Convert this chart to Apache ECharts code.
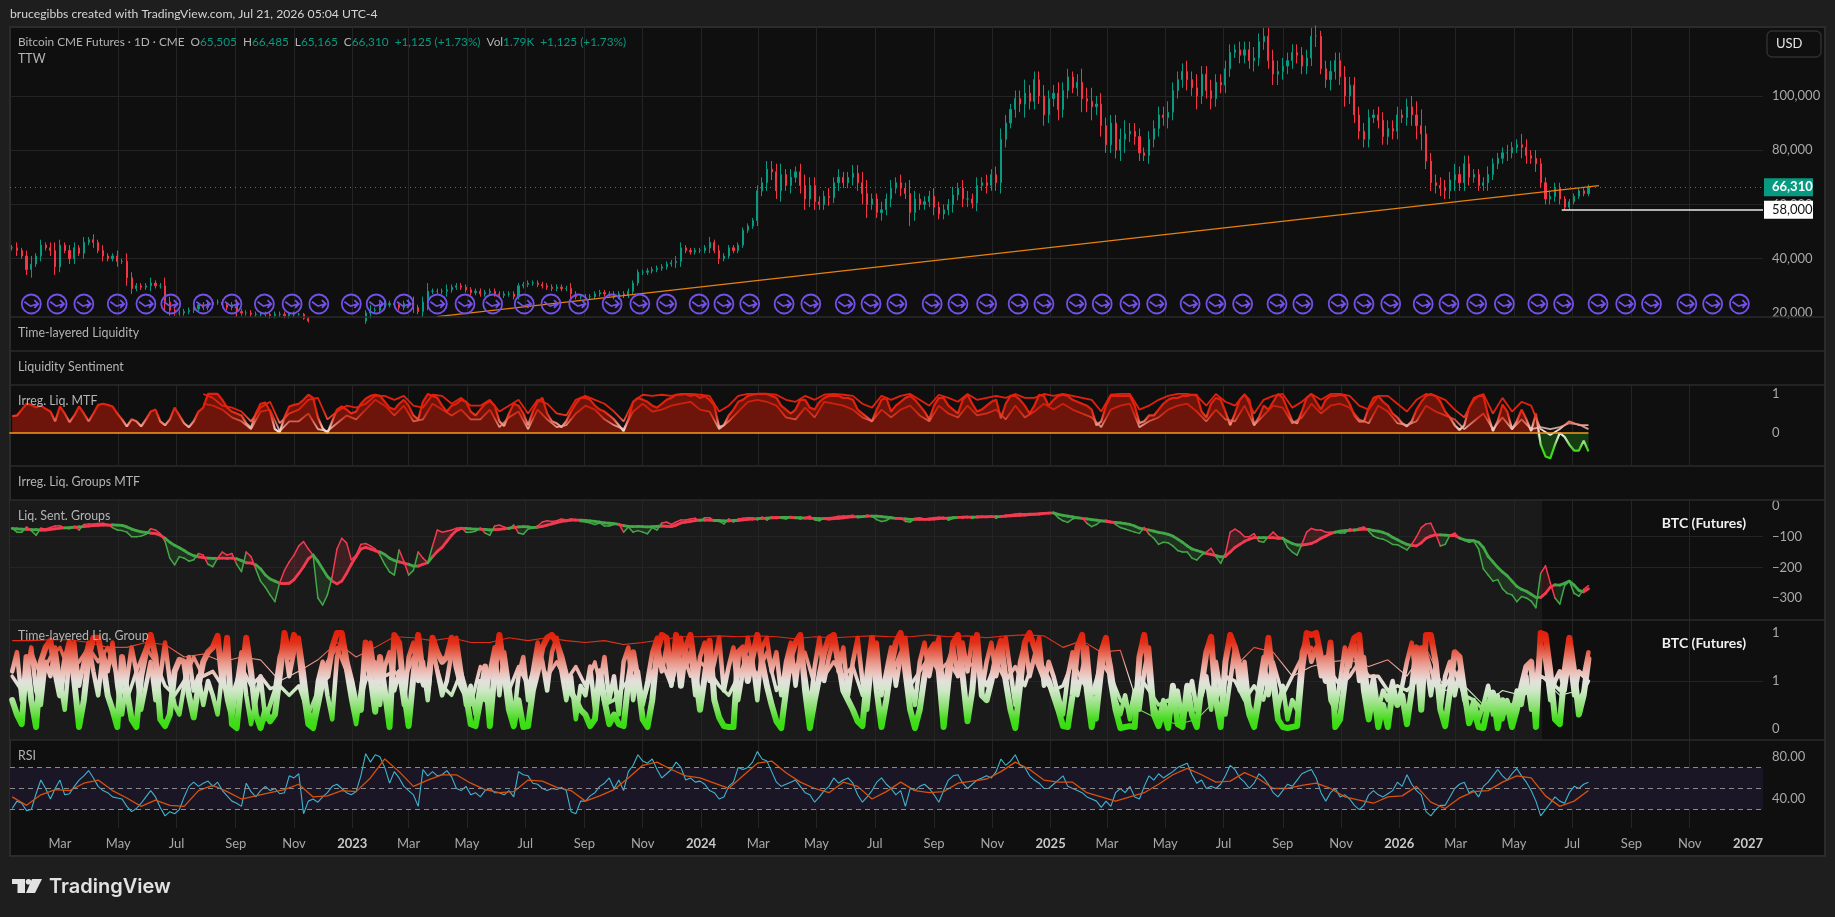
<!DOCTYPE html>
<html><head><meta charset="utf-8"><style>html,body{margin:0;padding:0;background:#1e1e1e}#c{width:1835px;height:917px}</style>
<script src="https://cdn.jsdelivr.net/npm/echarts@6/dist/echarts.min.js"></script></head><body><div id="c"></div><script>
const seriesStart='2022-01-10', stepDays=5;
const axisStart='2022-01-07T17:00:00Z', axisEnd='2027-01-16T17:00:00Z';
const tickDates=['2022-03-01','2022-05-01','2022-07-01','2022-09-01','2022-11-01','2023-01-01','2023-03-01','2023-05-01','2023-07-01','2023-09-01','2023-11-01','2024-01-01','2024-03-01','2024-05-01','2024-07-01','2024-09-01','2024-11-01','2025-01-01','2025-03-01','2025-05-01','2025-07-01','2025-09-01','2025-11-01','2026-01-01','2026-03-01','2026-05-01','2026-07-01','2026-09-01','2026-11-01','2027-01-01'];
const tickLabels=['Mar','May','Jul','Sep','Nov','2023','Mar','May','Jul','Sep','Nov','2024','Mar','May','Jul','Sep','Nov','2025','Mar','May','Jul','Sep','Nov','2026','Mar','May','Jul','Sep','Nov','2027'];
const closeK=[44,43,41,36,38,41,45,44,43,37,45,43,40,44,42,46,47,46,43,41,40,41,39,39,33,29,30,29.5,30,31,30,30,24,21,20,20,20.5,21,21.5,23,22,23,24,24,23,22,23,20.5,20,20,19.5,19.5,19.5,19.5,19,19.5,19.5,19,19.5,19.5,19.5,18,17,16.5,16.5,16.5,16.8,16.8,17,16.5,16.7,16.6,16.7,17,20,21,21,23,23,23.5,23,22,23.5,24,22,20.5,24,28,28,28,28,28.5,29.5,30,29.5,28.5,27.5,28,27,27.5,28,27,26.5,27,27,26,30,30.5,31,31,30.5,30,29.5,29,29.5,29,29,27,26,26,26,26,27,27.5,27,27,26,27,26.5,28,31,35,35,35.5,36,36.5,37,38,38.5,39,44,43,42.5,43,43,44,46,43,40,41,44,43,45,50.5,52,54,65,68,73,72,65,71,67,70,72,67,62,67,61,60,63,62.5,68,70,68,70,71.5,68,64,60,62,57,58,62,66,68,66,64,57,62,60,61,63,59,56.5,58,60,63.5,66,62,62,60.5,67,68,67,71,68,84,90,95,99,97,101,98,106,100,93,99,101,95,102,107,103,105,99,98,96,97,89,82,90,80,84,86,87,85,79,78,84,88,93,92,94,102,106,109,106,103,100,108,102,99,105,104,110,116,117,115,117,113,114,120,122,113,108,109,111,113,116,115,111,114,122,122,110,106,109,113,107,100,104,93,87,84,92,93,91,85,88,87,93,92,96,93,89,86,76,68,67,66,65,69,71,68,75,70,71,67,68,71,75,77,79,79,81,82,81,78,77,75,68,62,63,66,62,59,61,63,65,64,66.31];
const wickK=[1,2,1,2,3,1,2,1,2,3,2,1,2,2,1,2,1,2,1,2,1,1,2,1,3,2,1,1,1,2,1,1,3,2,1,1,1,1,1,1,1,1,1,1,1,1,1,2,1,1,1,1,1,1,1,1,1,1,1,1,.5,.5,.5,1,1,1,1,1,1,1,1,1,1,1,1,2,1,1,2,1,1,1,1,1,2,1,2,3,1,1,1,2,1,1,1,1,1,1,1,1,1,1,1,1,1,1,1,1,1,1,1,1,1,1,1,1,1,2,1,1,1,1,1,1,1,1,1,1,1,1,1,1,1,1,1,1,1,1,1,2,2,1,1,1,1,1,2,1,2,1,1,1,1,1,1,1,2,2,3,3,3,4,2,3,2,3,4,3,3,2,2,3,2,3,2,2,3,3,4,5,2,2,3,2,3,2,3,2,5,3,2,2,2,3,2,2,2,3,2,3,3,2,3,2,3,2,3,4,3,2,3,3,5,3,3,3,4,3,3,4,3,3,2,3,5,4,5,3,4,3,3,3,4,5,3,3,3,2,3,3,3,3,4,3,3,3,4,3,5,3,3,4,3,3,3,3,2,3,3,3,4,3,3,3,4,4,3,3,3,3,3,3,3,4,2,3,4,3,3,4,3,3,3,3,3,2,3,3,3,3,3,2,3,4,5,6,3,3,3,3,3,3,4,3,3,3,2,2,2,3,2,2,2,3,2,2,4,3,2,3,2,2,2,2,2,1,1];
const trendDays=[445,1661], trendK=[18.64,66.92];
const eventDays=[20,47,75,110,140,166,200,230,264,293,321,355,381,410,445,474,503,536,564,593,628,657,685,719,745,772,808,836,872,899,926,963,990,1020,1053,1080,1114,1141,1170,1198,1233,1260,1288,1324,1351,1388,1415,1443,1477,1504,1533,1562,1597,1624,1660,1689,1716,1753,1780,1808];
const lastClose=66310, levelPrice=58000, levelStartDay=1622;
const irregA=[.43,.45,.6,.75,.72,.66,.7,.62,.55,.3,.68,.5,.28,.45,.68,.5,.3,.5,.72,.75,.72,.68,.5,.35,.17,.35,.3,.17,.35,.55,.6,.3,.2,.35,.65,.45,.25,.15,.3,.55,.65,1,1,1,.85,.65,.55,.5,.45,.25,.13,.5,.75,.78,.55,.1,.02,.4,.68,.72,.75,.85,.98,.9,.4,.12,0,.3,.6,.68,.6,.5,.55,.75,.88,.95,.98,.95,.8,.65,.6,.75,.85,.7,.45,.35,.8,1,.95,.9,.7,.55,.7,.75,.85,.8,.55,.45,.6,.75,.82,.7,.3,.18,.5,.75,.7,.5,.2,.55,.8,.9,.5,.3,.25,.15,.3,.55,.75,.9,.9,.85,.7,.6,.55,.45,.35,.2,.05,.35,.8,.9,.85,.8,.7,.65,.75,.85,.9,.98,.98,1,.95,.98,.9,.95,.85,.7,.15,.2,.45,.6,.8,.85,.95,.98,1,1,1,.95,.9,.7,.6,.5,.6,.85,.85,.65,.6,.8,.9,.95,.95,.95,.9,.9,.85,.6,.5,.4,.3,.6,.85,.9,.55,.7,.8,.9,.95,.85,.7,.55,.35,.7,.9,.9,.7,.6,.5,.85,.98,.75,.55,.6,.7,.8,.85,.38,.75,.95,.95,.85,.7,.5,.7,.98,.95,.7,.85,.95,.98,.95,.85,.8,.75,.7,.6,.2,.3,.7,.95,.95,.95,.95,.95,.7,.26,.3,.45,.45,.6,.75,.85,.9,.9,.95,.95,.98,.98,.55,.4,.75,.9,.85,.55,.2,.5,.85,.98,.85,.2,.4,.7,.6,.8,1,.9,.6,.3,.25,.55,.9,1,.8,.6,.85,.95,.95,.98,.95,.75,.45,.3,.3,.65,.9,.95,.8,.7,.5,.4,.25,.17,.3,.6,.8,.95,1,.95,.8,.55,.4,.2,.08,.2,.65,.85,.95,.95,.45,.05,.3,.73,.55,.1,.3,.6,.35,.05,.5,-.3,-.6,-.65,-.3,0,-.1,-.3,-.45,-.45,-.2,-.47];
const irregBStart=40, irregBCStep=2;
const irregB=[1,.9,.7,.65,.55,.3,.65,.8,.25,.5,.6,.85,.9,.35,.55,.7,.65,.75,.95,.95,.85,.95,.7,.65,.98,.95,.75,.9,.7,.7,.85,.55,.7,.85,.5,.85,.75,.5,.45,.85,.95,.85,.75,.55,.3,.8,.98,.95,.98,.95,1,1,.98,.95,.55,.7,.95,1,1,1,.98,.85,.8,.95,.85,.98,1,.98,.95,.75,.65,.95,.85,.95,1,.85,.7,.98,.9,.8,1,.85,.9,.95,.9,1,.9,.9,1,.95,1,.95,.9,.85,.55,.98,1,1,.6,.7,.85,.95,1,1,.95,.7,1,.8,.7,1,.5,.85,.95,1,.65,.8,1,.85,1,1,.95,.7,.6,.95,.95,.75,.55,.85,1,.95,.85,.6,.4,.9,1,.5,.9,.55,.8,.7,.1,-.05,.1,.3,.2,.2];
const irregC=[.75,.7,.6,.4,.3,.1,.55,.6,.05,.3,.3,.5,.1,.05,.25,.45,.35,.6,.85,.7,.45,.7,.3,.35,.75,.6,.45,.6,.35,.35,.6,.15,.4,.55,.1,.6,.35,.15,.2,.5,.7,.6,.35,.2,.1,.55,.75,.55,.6,.7,.75,.8,.6,.55,.1,.3,.55,.8,.85,.8,.7,.4,.35,.65,.4,.8,.75,.7,.6,.4,.3,.6,.4,.6,.7,.45,.3,.7,.5,.4,.7,.45,.5,.6,.35,.7,.4,.55,.75,.6,.75,.6,.5,.4,.15,.6,.7,.75,.15,.3,.4,.6,.7,.75,.55,.3,.6,.35,.3,.7,.2,.45,.7,.65,.25,.4,.75,.5,.7,.75,.65,.35,.25,.7,.55,.25,.2,.3,.7,.55,.45,.35,.1,.3,.5,.1,.4,.1,.35,.1,.15,.1,.15,.25,.22,.1];
const groupSlow=[-73,-74,-75,-76,-77,-77,-78,-78,-76,-74,-72,-71,-70,-69,-68,-67,-65,-64,-63,-62,-62,-61,-62,-63,-68,-75,-80,-84,-86,-88,-90,-95,-105,-118,-128,-136,-145,-155,-162,-166,-168,-170,-171,-171,-170,-171,-170,-172,-178,-185,-186,-192,-205,-225,-238,-245,-252,-253,-252,-240,-220,-198,-172,-160,-180,-205,-230,-245,-254,-245,-220,-190,-165,-140,-135,-140,-146,-150,-158,-170,-178,-182,-186,-190,-196,-196,-190,-185,-165,-148,-135,-115,-95,-80,-73,-73,-74,-75,-75,-76,-78,-77,-76,-74,-72,-70,-68,-67,-68,-70,-69,-66,-62,-58,-54,-50,-48,-46,-46,-46,-47,-48,-50,-52,-55,-56,-57,-60,-64,-66,-67,-66,-67,-68,-67,-66,-65,-66,-67,-62,-55,-52,-50,-47,-46,-46,-46,-47,-47,-48,-48,-47,-47,-45,-43,-42,-41,-40,-39,-38,-38,-37,-37,-37,-38,-38,-39,-40,-40,-41,-41,-42,-41,-40,-38,-36,-35,-34,-34,-33,-33,-33,-34,-36,-38,-40,-41,-42,-43,-43,-43,-43,-43,-42,-41,-40,-39,-38,-37,-37,-36,-36,-36,-35,-35,-34,-34,-34,-33,-32,-31,-30,-29,-28,-27,-26,-24,-23,-22,-27,-30,-33,-35,-38,-40,-42,-44,-46,-48,-50,-52,-53,-55,-57,-60,-65,-72,-75,-78,-82,-86,-88,-92,-98,-108,-118,-130,-140,-145,-150,-155,-158,-162,-166,-164,-150,-135,-125,-115,-108,-103,-103,-103,-103,-103,-105,-105,-115,-122,-127,-127,-125,-122,-115,-105,-98,-90,-85,-82,-80,-79,-78,-77,-75,-76,-80,-82,-86,-92,-102,-110,-118,-125,-128,-130,-120,-105,-98,-94,-94,-95,-96,-96,-104,-110,-112,-113,-118,-135,-164,-182,-200,-215,-228,-245,-262,-272,-278,-288,-298,-298,-285,-265,-257,-258,-252,-245,-258,-275,-280,-270];
const groupFast=[-73,-85,-85,-68,-80,-95,-72,-75,-70,-65,-64,-72,-74,-66,-78,-60,-58,-58,-57,-56,-60,-70,-78,-80,-85,-100,-100,-98,-92,-74,-78,-90,-115,-170,-192,-165,-170,-180,-175,-155,-160,-190,-198,-170,-150,-160,-155,-190,-214,-150,-165,-205,-245,-265,-290,-312,-250,-210,-182,-160,-130,-116,-140,-160,-300,-323,-290,-230,-140,-105,-120,-175,-160,-125,-122,-130,-140,-160,-190,-215,-225,-143,-180,-225,-210,-150,-170,-185,-130,-78,-85,-82,-78,-72,-70,-85,-85,-82,-72,-88,-95,-65,-62,-68,-75,-62,-88,-92,-75,-72,-65,-52,-48,-50,-48,-42,-45,-42,-44,-50,-52,-55,-60,-55,-65,-65,-60,-58,-85,-68,-85,-80,-85,-90,-70,-78,-55,-52,-60,-52,-45,-45,-42,-40,-48,-38,-38,-48,-50,-58,-42,-52,-42,-40,-38,-38,-45,-36,-46,-36,-36,-40,-42,-34,-38,-42,-37,-33,-45,-48,-38,-38,-36,-33,-32,-32,-30,-38,-36,-30,-33,-44,-50,-47,-38,-38,-38,-50,-52,-40,-38,-42,-40,-38,-36,-36,-46,-40,-36,-34,-34,-40,-33,-33,-34,-32,-40,-32,-30,-28,-26,-24,-26,-24,-24,-23,-22,-22,-22,-38,-48,-53,-42,-38,-38,-56,-67,-60,-48,-46,-50,-60,-70,-75,-80,-85,-89,-70,-92,-105,-125,-118,-120,-130,-145,-150,-150,-170,-176,-160,-150,-138,-165,-187,-155,-85,-75,-85,-100,-100,-90,-115,-118,-100,-85,-100,-105,-135,-150,-160,-125,-85,-73,-78,-78,-85,-85,-85,-88,-88,-74,-80,-72,-68,-82,-98,-105,-108,-115,-125,-126,-135,-143,-125,-100,-70,-58,-56,-90,-130,-125,-95,-88,-105,-112,-118,-115,-140,-205,-225,-245,-240,-270,-285,-290,-312,-295,-300,-310,-332,-220,-195,-250,-300,-320,-260,-245,-285,-294,-272,-260];
const layeredA=[.3,.15,.05,.75,.3,.02,.7,.85,.92,.6,.35,.7,.9,.5,.02,.3,.75,.95,.95,.7,.35,.2,.02,.75,.4,.1,.02,.55,.8,.98,.75,.1,.03,.15,.6,.72,.7,.35,.12,.45,.7,.8,.85,.97,.5,.95,.05,.01,.5,.95,.6,.15,.01,.2,.08,.15,.55,1,.75,.98,.85,.4,.05,.01,.25,.5,.55,.85,1,1,.7,.5,.25,.2,.9,.55,.18,.75,.4,.02,.98,.9,.4,.03,.55,.98,.55,.4,.95,.8,.7,.75,.95,.65,.45,.35,.05,.03,.3,.65,.03,.6,.98,.6,.2,.03,.3,.02,.03,.4,.6,.85,.95,.98,.9,.75,.55,.38,.3,.2,.15,.03,.1,.6,.3,.05,.15,.05,.03,.5,.8,.5,.1,.02,.3,.8,.98,.95,.5,.98,.45,.85,.98,.6,.2,.55,.92,.3,.12,.03,.02,.02,.8,.85,.5,.75,.98,.7,.45,.25,.08,.01,.4,.75,.9,.98,.4,.01,.3,.55,.8,.95,.98,.7,.4,.3,.2,.08,.03,.55,.95,.4,.02,.3,.65,.9,1,.6,.2,.01,.2,.55,.8,.88,.6,.02,.5,.9,.98,.55,.08,.4,.98,.35,.3,.5,.75,.92,.5,.2,.01,.45,.9,1,.85,.7,.6,.5,.35,.2,.03,.02,.35,.85,.98,.4,.02,.35,.8,.95,.5,.2,.01,.02,.03,.02,.75,.98,.6,.15,.03,.2,.01,.45,.05,.02,.45,.15,.02,.45,.8,.96,.3,.02,.7,.98,.85,.65,.4,.15,.02,.3,.55,.95,.5,.1,.02,.01,.02,.03,.6,1,.98,1,.75,.5,.9,.02,.1,.5,.8,.95,.98,.4,.1,.4,.02,.25,.02,.4,.25,.35,.05,.4,.85,.2,.98,.98,.7,.2,.03,.4,.8,.75,.4,.06,.2,.02,.01,.25,.38,.01,.3,.25,.02,.2,.45,.65,.7,.02,1,.98,.6,.1,.05,.6,.95,.6,.15,.35,.73];
const layeredB=[.55,.4,.8,.55,.75,.85,.6,.7,.85,.7,.85,.55,.3,.6,.85,.7,.45,.35,.5,.75,.55,.6,.45,.35,.65,.45,.55,.42,.45,.35,.45,.15,.4,.7,.85,.6,.15,.5,.7,.55,.6,.5,.75,.45,.8,.45,.35,.6,.25,.65,.55,.8,.4,.65,.45,.75,.55,.7,.5,.65,.45,.7,.25,.3,.45,.55,.25,.6,.7,.45,.85,.55,.7,.6,.45,.35,.55,.75,.55,.8,.4,.55,.65,.8,.45,.55,.7,.55,.65,.35,.7,.4,.55,.8,.45,.6,.75,.6,.7,.55,.65,.7,.45,.7,.5,.65,.45,.75,.5,.4,.45,.7,.5,.35,.7,.55,.3,.2,.55,.4,.25,.3,.25,.2,.2,.5,.3,.55,.5,.3,.45,.3,.7,.35,.55,.75,.85,.7,.6,.45,.55,.7,.55,.55,.4,.45,.4,.5,.8,.45,.45,.6,.35,.3,.2,.2,.25,.25,.35,.4,.55,.5,.4,.65,.3,.5];
const layeredC=[.92,.92,.93,.93,.9,.85,.85,.9,.88,.75,.78,.7,.75,.72,.5,.6,.72,.9,.75,.85,.96,.95,.92,.95,.9,.9,.95,.92,.95,.92,.9,.92,.88,.9,.93,.96,.96,.97,.96,.97,.96,.94,.96,.95,.96,.97,.96,.96,.98,.96,.97,.95,.97,.98,.97,.85,.92,.8,.82,.2,.1,.05,.1,.3,.65,.85,.8,.55,.65,.7,.72,.65,.72,.55,.85,.4,.45,.25,.4,.35,.55,.35,.4,.5];
const layeredD=[.6,.8,.3,.55,.85,.4,.25,.7,.55,.85,.5,.2,.75,.9,.45,.7,.9,.6,.35,.8,.6,.9,.45,.15,.5,.85,.6,.2,.45,.7,.3,.55,.9,.5,.25,.15,.45,.75,.4,.55,.25,.5,.35,.15,.6,.3,.1,.45,.8,.35,.05,.3,.55,.1,.25,.4,.75,.9,.55,.8,.95,.6,.2,.05,.5,.7,.35,.1,.75,.95,.6,.3,.05,.4,.75,.9,.55,.25,.65,.8,.4,.6,.25,.75,.9,.5,.7,.3,.85,.6,.35,.5,.8,.95,.6,.25,.45,.15,.5,.3,.6,.85,.35,.8,.45,.1,.55,.75,.3,.6,.9,.7,.4,.8,.95,.6,.3,.55,.1,.45,.35,.65,.2,.45,.75,.3,.55,.15,.7,.85,.3,.6,.25,.5,.8,.95,.6,.85,.45,.75,.95,.65,.8,.35,.75,.9,.5,.7,.95,.4,.65,.85,.3,.6,.95,.7,.3,.85,.95,.6,.8,.35,.7,.9,.45,.85,.55,.2,.65,.95,.5,.75,.95,.6,.85,.35,.7,.95,.5,.2,.7,.9,.35,.6,.85,.45,.75,.95,.5,.25,.7,.9,.55,.8,.95,.35,.7,.85,.55,.9,.6,.95,.75,.4,.7,.9,.55,.8,.95,.6,.25,.7,.9,.55,.75,.95,.45,.7,.55,.35,.15,.55,.8,.35,.6,.85,.3,.1,.55,.9,.65,.3,.15,.35,.1,.4,.2,.6,.85,.25,.1,.3,.15,.2,.4,.1,.3,.5,.2,.35,.55,.2,.7,.4,.15,.5,.85,.4,.7,.25,.1,.45,.75,.35,.6,.2,.45,.1,.3,.2,.8,.95,.7,.85,.55,.75,.3,.2,.5,.85,.65,.9,.5,.75,.3,.55,.2,.4,.3,.5,.25,.45,.7,.9,.5,.85,.7,.35,.65,.2,.55,.7,.35,.6,.3,.15,.3,.1,.25,.45,.15,.35,.1,.3,.15,.4,.25,.55,.2,.45,.9,.7,.3,.5,.6,.4,.75,.35,.6,.55,.8];
const rsiLine=[31,38,36,29,30,45,58,50,40,50,58,44,45,52,58,62,67,60,52,48,46,42,41,40,33,28,31,36,42,48,42,32,24,28,26,30,42,52,56,52,55,57,52,56,48,43,38,36,33,55,47,42,48,52,48,50,45,46,62,60,64,26,38,40,37,42,46,52,54,50,46,44,47,62,83,75,82,80,70,55,66,60,52,48,44,33,68,62,66,62,63,67,61,50,48,52,44,46,42,48,50,46,46,44,48,42,66,63,62,55,54,50,48,50,49,51,48,28,26,38,38,43,46,52,55,60,50,58,48,66,72,82,76,74,78,68,60,64,68,75,70,58,60,56,57,54,48,46,40,42,52,56,70,68,70,75,85,78,76,66,56,52,54,56,58,52,46,44,37,42,48,52,60,55,58,60,55,44,37,42,48,56,60,54,50,44,48,33,50,48,52,54,50,44,37,48,58,62,63,55,50,54,58,60,62,60,66,78,72,76,82,72,70,62,58,55,50,50,54,58,62,52,50,48,46,42,40,38,32,38,33,46,50,46,52,42,40,52,62,58,64,60,63,66,70,72,74,63,55,58,50,52,50,54,62,72,68,60,56,50,55,64,60,54,46,42,48,54,52,58,64,66,68,60,46,38,46,50,42,44,40,34,30,34,44,48,44,42,45,48,56,52,63,54,48,44,28,24,30,34,34,42,50,54,56,46,48,42,52,56,62,68,62,58,64,69,62,56,48,38,24,30,36,42,38,36,46,52,50,54,56];
const rsiMaStep=3;
const rsiMa=[42,34,44,49,48,55,58,48,41,33,39,34,33,48,53,47,40,43,46,49,54,42,43,48,47,60,78,66,52,58,63,63,55,49,46,47,58,57,51,48,38,43,49,60,72,75,68,62,60,55,50,62,74,76,65,56,50,46,56,52,40,47,56,48,46,47,55,57,59,66,75,68,58,56,56,46,42,38,42,46,54,63,69,63,56,57,65,59,50,50,53,55,50,42,39,36,42,43,52,37,31,41,47,48,56,62,60,43,33,38,48];
const priceTicks=[20000,40000,60000,80000,100000,120000], irregTicks=[0,1], groupTicks=[-300,-200,-100,0], layeredTicks=[0,.5,1], rsiTicks=[40,80];

const DAY=864e5, t0=Date.parse(seriesStart+'T00:00:00Z');
const T=(i,step=1)=>t0+i*step*stepDays*DAY, TD=d=>t0+d*DAY;
const tMin=Date.parse(axisStart), tMax=Date.parse(axisEnd);
const tEnd=T(330), upToEnd=r=>r[0]<=tEnd;
const tickTs=tickDates.map(d=>Date.parse(d+'T00:00:00Z'));
const labelOf=v=>{const i=tickTs.indexOf(v);return i<0?'':tickLabels[i]};
const candles=closeK.map((c,i)=>{const o=i?closeK[i-1]:c,w=wickK[i]||1;return [T(i),o*1e3,c*1e3,(Math.min(o,c)-w)*1e3,(Math.max(o,c)+w)*1e3]});
const grids=[[27,290],[385,81],[500,120],[620,120],[740,88]].map(([top,height])=>({left:10,width:1753,top,height}));
const gridColor='#242424', axisText='#a8a8a8';
const xAxes=grids.map((g,i)=>({type:'value',gridIndex:i,min:tMin,max:tMax,axisLine:{show:false},
  axisTick:{show:false,customValues:tickTs},
  splitLine:{show:true,showMinLine:false,showMaxLine:false,lineStyle:{color:gridColor,width:1}},
  axisLabel:i==4?{show:true,customValues:tickTs,color:axisText,fontFamily:'Lato',fontSize:13,margin:9,hideOverlap:false,showMinLabel:true,showMaxLabel:true,
    formatter:v=>{const s=labelOf(v);return /^20/.test(s)?'{y|'+s+'}':s},rich:{y:{color:'#c8c8c8',fontFamily:'Lato',fontSize:13,fontWeight:'bold'}}}:{show:false}}));
const yA=(i,min,max,ticks,fmt)=>({type:'value',gridIndex:i,position:'right',min,max,axisLine:{show:false},
  axisTick:{show:false,customValues:ticks},splitLine:{show:true,showMinLine:false,showMaxLine:false,lineStyle:{color:gridColor,width:1}},
  axisLabel:{customValues:ticks,color:axisText,fontFamily:'Lato',fontSize:13,margin:9,formatter:fmt,showMinLabel:true,showMaxLabel:true}});
const yAxes=[
  yA(0,18500,125400,priceTicks,v=>v>=120000?'':v.toLocaleString('en-US')),
  yA(1,-.846,1.23,irregTicks,v=>String(v)),
  yA(2,-372,20,groupTicks,v=>String(v).replace('-','\u2212')),
  yA(3,-.115,1.135,layeredTicks,v=>String(Math.round(v))),
  yA(4,12.5,96,rsiTicks,v=>v.toFixed(2))
];
const noSym={symbol:'none',showSymbol:false,animation:false};
const lineOn=i=>({type:'line',xAxisIndex:i,yAxisIndex:i,...noSym});
const eventPath='path://M1 12A11 11 0 1 1 23 12A11 11 0 1 1 1 12ZM4 9.5L11 14.5L20 12M15.5 7.5L20 12L15.5 16.5';
function renderGroup(params,api){
  const i=params.dataIndex; if(i>=groupSlow.length-1) return;
  const up=groupFast[i]>groupSlow[i], col=up?'#f23a50':'#43a848', fill=up?'rgba(242,58,80,.17)':'rgba(67,168,72,.17)';
  const s0=api.coord([T(i),groupSlow[i]]),s1=api.coord([T(i+1),groupSlow[i+1]]),f0=api.coord([T(i),groupFast[i]]),f1=api.coord([T(i+1),groupFast[i+1]]);
  return {type:'group',children:[
    {type:'polygon',shape:{points:[s0,s1,f1,f0]},style:{fill:fill}},
    {type:'polyline',shape:{points:[f0,f1]},style:{stroke:col,lineWidth:1.5,fill:null,lineCap:'round'}},
    {type:'polyline',shape:{points:[s0,s1]},style:{stroke:col,lineWidth:2.8,fill:null,lineCap:'round'}}
  ]};
}
const series=[
 {type:'candlestick',xAxisIndex:0,yAxisIndex:0,data:candles,barWidth:1.6,animation:false,clip:true,itemStyle:{color:'#089981',color0:'#f23645',borderColor:'#089981',borderColor0:'#f23645',borderWidth:1},
  markLine:{silent:true,symbol:'none',animation:false,data:[
   {yAxis:lastClose,lineStyle:{color:'#089981',type:[1,4],width:1},label:{formatter:'66,310',position:'end',distance:1,color:'#fff',backgroundColor:'#089981',padding:[3,5,2,8],fontFamily:'Lato',fontSize:13,width:36,fontWeight:'bold'}},
   [{coord:[TD(levelStartDay),levelPrice],lineStyle:{color:'#e8e8e8',type:'solid',width:1.5},label:{formatter:'58,000',position:'end',distance:1,color:'#111',backgroundColor:'#fff',padding:[3,5,2,8],fontFamily:'Lato',fontSize:13,width:36}},{coord:[tMax,levelPrice]}]
  ]}},
 {...lineOn(0),data:trendDays.map((d,i)=>[TD(d),trendK[i]*1e3]),lineStyle:{color:'#e8810c',width:1.4},z:4},
 {type:'scatter',xAxisIndex:0,yAxisIndex:0,data:eventDays.map(d=>[TD(d),23300]),symbol:eventPath,symbolSize:19,animation:false,z:6,silent:true,itemStyle:{color:'rgba(0,0,0,0)',borderColor:'#7350e6',borderWidth:1.8,opacity:1}},
 {...lineOn(1),data:irregA.map((v,i)=>[T(i),Math.max(v,0)]),lineStyle:{width:0},areaStyle:{color:'#6e150b',opacity:1},itemStyle:{color:'#6e150b'},z:1},
 {...lineOn(1),data:irregA.map((v,i)=>[T(i),Math.min(v,0)]),lineStyle:{width:0},areaStyle:{color:'#163d12',opacity:1},itemStyle:{color:'#163d12'},z:1},
 {...lineOn(1),data:irregC.map((v,i)=>[T(irregBStart+i*irregBCStep),v]).filter(upToEnd),lineStyle:{width:1.8,opacity:.85},z:2},
 {...lineOn(1),data:irregB.map((v,i)=>[T(irregBStart+i*irregBCStep),v]).filter(upToEnd),lineStyle:{width:1.8},z:2},
 {...lineOn(1),data:irregA.map((v,i)=>[T(i),v]),lineStyle:{width:2.2},z:3},
 {...lineOn(1),data:[[T(0)-3*DAY,0],[tEnd,0]],lineStyle:{color:'#f59a1b',width:1.5},z:4},
 {type:'custom',xAxisIndex:2,yAxisIndex:2,coordinateSystem:'cartesian2d',renderItem:renderGroup,animation:false,silent:true,encode:{x:0,y:[1,2]},data:groupSlow.map((v,i)=>[T(i),v,groupFast[i]]),z:3},
 {...lineOn(3),data:layeredA.map((v,i)=>[T(i),v]),lineStyle:{width:6,join:'round',cap:'round'},z:2},
 {...lineOn(3),data:layeredD.map((v,i)=>[T(i),v]).filter(upToEnd),lineStyle:{width:4.5,join:'round',cap:'round'},z:3},
 {...lineOn(3),data:layeredB.map((v,i)=>[T(i,2),v]).filter(upToEnd),lineStyle:{width:3.5,join:'round',cap:'round'},z:3},
 {...lineOn(3),data:layeredC.map((v,i)=>[T(i,4),v]).filter(upToEnd),lineStyle:{width:1.1},z:4},
 {...lineOn(4),data:rsiLine.map((v,i)=>[T(i),v]),lineStyle:{color:'#3fb4cf',width:1.1},z:3,
  markArea:{silent:true,animation:false,itemStyle:{color:'#1a1626'},data:[[{yAxis:70},{yAxis:30}]]},
  markLine:{silent:true,symbol:'none',animation:false,label:{show:false},lineStyle:{color:'#8a8a8a',type:[5,4],width:1},data:[{yAxis:70},{yAxis:50},{yAxis:30}]}},
 {...lineOn(4),data:rsiMa.map((v,i)=>[T(i,rsiMaStep),v]),lineStyle:{color:'#d9520a',width:1.3},z:4}
];
const irregStops=['#35e010','#45d820','#a8e098','#f2f2f2','#ee9a8c','#e8402a','#e2200c','#e2200c','#e2200c'];
const layerStops=['#38dc10','#45dc20','#7ee060','#a8e498','#d0e8c8','#e4e0dc','#ecbcb4','#e89488','#e4604c','#e23018','#e2200c'];
const visualMap=[
 {type:'continuous',show:false,seriesIndex:[5,6,7],dimension:1,min:-.6,max:1,inRange:{color:irregStops}},
 {type:'continuous',show:false,seriesIndex:[10,11,12,13],dimension:1,min:0,max:1,inRange:{color:layerStops}}
];
const txt=(x,y,text,o={})=>({type:'text',x,y,z:50,silent:true,style:{text,fill:o.fill||'#b4b4b4',font:(o.font||'12.4px Lato'),textAlign:o.align||'left',textVerticalAlign:'middle',verticalAlign:'middle'}});
const hline=y=>({type:'line',z:40,silent:true,shape:{x1:10,y1:y,x2:1825,y2:y},style:{stroke:'#2b2b2b',lineWidth:1.5}});
const tc='#089981';
const legendEl={type:'text',x:18,y:42,z:50,silent:true,style:{verticalAlign:'middle',
 text:'{a|Bitcoin CME Futures \u00b7 1D \u00b7 CME  O}{g|65,505}{a|  H}{g|66,485}{a|  L}{g|65,165}{a|  C}{g|66,310}{a|  }{g|+1,125 (+1.73%)}{a|  Vol}{g|1.79K}{a|  }{g|+1,125 (+1.73%)}',
 rich:{a:{fill:'#b4b4b4',font:'11.8px Lato'},g:{fill:tc,font:'11.8px Lato'}}}};
const graphic={elements:[
 {type:'rect',z:-3,silent:true,shape:{x:10,y:27,width:1815,height:829},style:{fill:'#0f0f0f',stroke:'#2b2b2b',lineWidth:2}},
 {type:'rect',z:-2,silent:true,shape:{x:10,y:500,width:1532,height:240},style:{fill:'#1a1a1a'}},
 hline(317),hline(351),hline(385),hline(466),hline(500),hline(620),hline(740),
 txt(10,14,'brucegibbs created with TradingView.com, Jul 21, 2026 05:04 UTC-4',{fill:'#d4d4d4',font:'12.2px Lato'}),
 legendEl,txt(18,59,'TTW'),txt(18,333,'Time-layered Liquidity'),txt(18,367,'Liquidity Sentiment'),txt(18,401,'Irreg. Liq. MTF'),txt(18,482,'Irreg. Liq. Groups MTF'),txt(18,516,'Liq. Sent. Groups'),txt(18,636,'Time-layered Liq. Group'),txt(18,756,'RSI'),
 txt(1746,523,'BTC (Futures)',{fill:'#f0f0f0',font:'bold 14px Lato',align:'right'}),txt(1746,643,'BTC (Futures)',{fill:'#f0f0f0',font:'bold 14px Lato',align:'right'}),
 {type:'rect',z:45,silent:true,shape:{x:1767,y:31,width:54,height:26,r:5},style:{fill:'#0f0f0f',stroke:'#2f2f2f',lineWidth:1.5}},
 txt(1776,44,'USD',{fill:'#e4e4e4',font:'13px Lato'}),
 {type:'polygon',z:50,silent:true,shape:{points:[[12,879],[25,879],[25,893],[17.5,893],[17.5,884],[12,884]]},style:{fill:'#e2e2e2'}},
 {type:'circle',z:50,silent:true,shape:{cx:28.5,cy:881.8,r:2.8},style:{fill:'#e2e2e2'}},
 {type:'polygon',z:50,silent:true,shape:{points:[[32,879],[42,879],[35,893],[26,893]]},style:{fill:'#e2e2e2'}},
 txt(49,887,'TradingView',{fill:'#e2e2e2',font:'600 20px Inter'})
]};
const chart=echarts.init(document.getElementById('c'),null,{renderer:'canvas',width:1835,height:917});
chart.setOption({backgroundColor:'#1e1e1e',animation:false,grid:grids,xAxis:xAxes,yAxis:yAxes,series,visualMap,graphic,tooltip:{show:false}});
</script></body></html>
